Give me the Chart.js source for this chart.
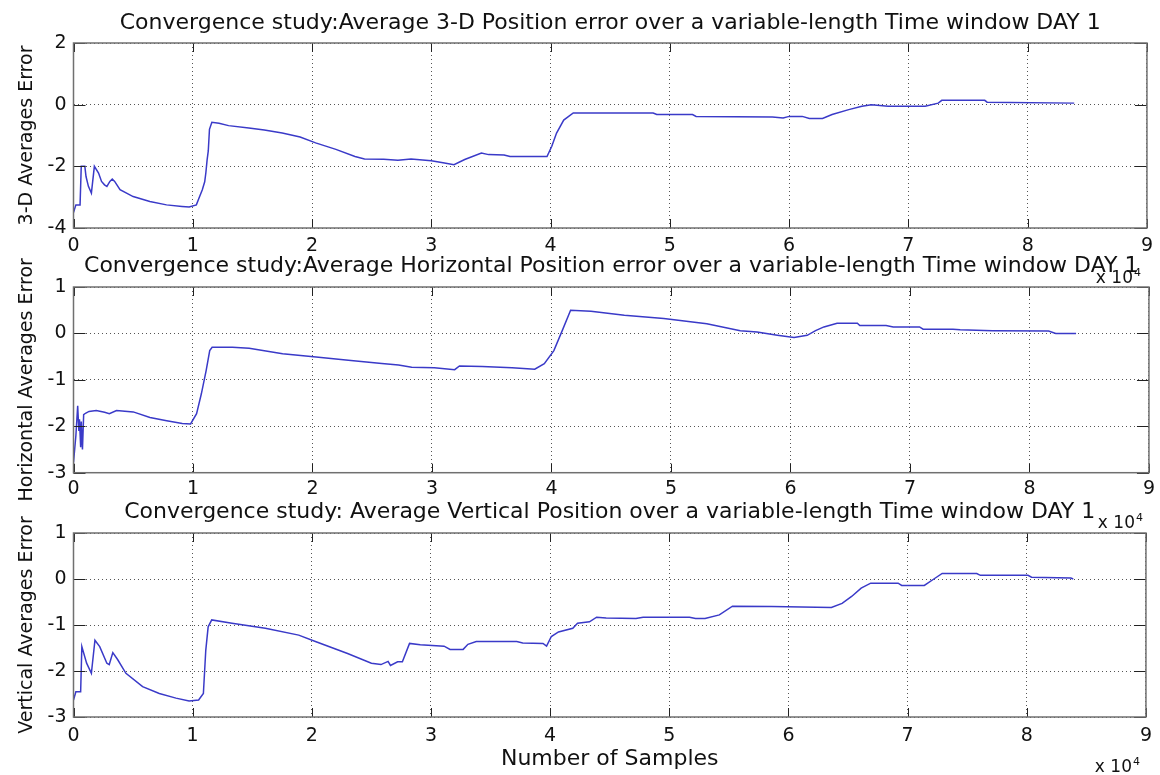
<!DOCTYPE html>
<html>
<head>
<meta charset="utf-8">
<title>Convergence study DAY 1</title>
<script src="https://cdn.jsdelivr.net/npm/chart.js@4/dist/chart.umd.min.js"></script>
<style>
  body { margin: 0; background: #fff; }
  #wrap { position: relative; width: 1160px; height: 775px; overflow: hidden; }
  canvas { position: absolute; left: 0; }
</style>
</head>
<body>
<div id="wrap">
  <canvas id="c3d" width="1160" height="290" style="top:0px"></canvas>
  <canvas id="cHor" width="1160" height="290" style="top:250px"></canvas>
  <canvas id="cVer" width="1160" height="280" style="top:495px"></canvas>
</div>
<script>
// sample axis in units of 10^4 samples
const xTicks = [0, 1, 2, 3, 4, 5, 6, 7, 8, 9];

// 3-D averages error
const x3d = [0, 0.02, 0.055, 0.065, 0.095, 0.105, 0.125, 0.15, 0.175, 0.21, 0.235, 0.26, 0.28, 0.305, 0.325, 0.345, 0.39,
  0.5, 0.64, 0.78, 0.91, 0.97, 1.03, 1.05, 1.08, 1.10, 1.11, 1.12, 1.13, 1.14, 1.16, 1.22, 1.30, 1.47, 1.60, 1.75, 1.90,
  2.03, 2.20, 2.36, 2.44, 2.60, 2.72, 2.83, 3.0, 3.11, 3.19, 3.28, 3.42, 3.48, 3.61, 3.66, 3.97, 4.01, 4.05, 4.11, 4.19,
  4.86, 4.89, 5.19, 5.22, 5.86, 5.95, 6.0, 6.11, 6.17, 6.28, 6.36, 6.5, 6.61, 6.69, 6.83, 7.14, 7.25, 7.28, 7.64, 7.66, 8.39];
const y3d = [-3.5, -3.25, -3.25, -2.0, -2.0, -2.33, -2.65, -2.87, -2.0, -2.22, -2.49, -2.6, -2.65, -2.49, -2.41, -2.49, -2.76,
  -2.98, -3.14, -3.25, -3.3, -3.32, -3.25, -3.05, -2.76, -2.5, -2.2, -1.8, -1.5, -0.8, -0.57, -0.6, -0.68, -0.76, -0.82, -0.92, -1.05,
  -1.24, -1.45, -1.68, -1.76, -1.77, -1.8, -1.76, -1.82, -1.89, -1.95, -1.78, -1.57, -1.62, -1.63, -1.68, -1.68, -1.35, -0.92, -0.5, -0.27,
  -0.27, -0.32, -0.32, -0.38, -0.4, -0.43, -0.38, -0.38, -0.45, -0.45, -0.32, -0.16, -0.05, 0.0, -0.05, -0.05, 0.05, 0.14, 0.14, 0.08, 0.05];

// horizontal averages error
const xHor = [0, 0.02, 0.035, 0.045, 0.05, 0.06, 0.065, 0.075, 0.085, 0.1, 0.13, 0.19, 0.26, 0.3, 0.36, 0.5, 0.64, 0.78, 0.91, 0.98,
  1.03, 1.07, 1.11, 1.14, 1.16, 1.33, 1.47, 1.75, 2.03, 2.3, 2.58, 2.72, 2.83, 3.02, 3.19, 3.23, 3.42, 3.67, 3.86, 3.94,
  4.02, 4.09, 4.16, 4.33, 4.61, 4.94, 5.3, 5.58, 5.72, 5.89, 6.03, 6.14, 6.21, 6.28, 6.39, 6.56, 6.58, 6.8, 6.86, 7.08,
  7.11, 7.36, 7.42, 7.69, 8.16, 8.22, 8.39];
const yHor = [-2.78, -2.2, -1.56, -2.1, -1.85, -2.45, -1.9, -2.5, -1.75, -1.72, -1.68, -1.66, -1.7, -1.73, -1.66, -1.69, -1.81, -1.88, -1.94, -1.95,
  -1.73, -1.3, -0.8, -0.37, -0.3, -0.3, -0.32, -0.44, -0.51, -0.58, -0.65, -0.68, -0.73, -0.74, -0.78, -0.7, -0.71, -0.74, -0.77, -0.65,
  -0.37, 0.06, 0.5, 0.48, 0.39, 0.32, 0.21, 0.06, 0.03, -0.04, -0.09, -0.04, 0.06, 0.14, 0.22, 0.22, 0.17, 0.17, 0.14, 0.14,
  0.09, 0.09, 0.08, 0.06, 0.05, 0.0, 0.0];

// vertical averages error
const xVer = [0, 0.02, 0.06, 0.07, 0.11, 0.15, 0.18, 0.22, 0.28, 0.3, 0.33, 0.37, 0.44, 0.58, 0.72, 0.86, 0.97, 1.05, 1.09, 1.11,
  1.13, 1.16, 1.33, 1.61, 1.89, 2.03, 2.3, 2.5, 2.58, 2.64, 2.66, 2.72, 2.76, 2.82, 2.91, 3.11, 3.16, 3.27, 3.31, 3.38,
  3.72, 3.77, 3.94, 3.97, 4.01, 4.07, 4.19, 4.23, 4.33, 4.39, 4.47, 4.72, 4.78, 5.17, 5.22, 5.3, 5.42, 5.53, 5.86, 6.36,
  6.45, 6.53, 6.61, 6.69, 6.92, 6.95, 7.14, 7.22, 7.29, 7.58, 7.61, 8.01, 8.04, 8.37, 8.39];
const yVer = [-2.63, -2.45, -2.45, -1.47, -1.83, -2.05, -1.33, -1.47, -1.83, -1.86, -1.6, -1.75, -2.05, -2.34, -2.49, -2.59, -2.65, -2.63, -2.49, -1.55,
  -1.04, -0.89, -0.96, -1.07, -1.22, -1.36, -1.62, -1.83, -1.86, -1.79, -1.88, -1.8, -1.8, -1.4, -1.43, -1.46, -1.53, -1.53, -1.42, -1.36,
  -1.36, -1.39, -1.4, -1.46, -1.25, -1.15, -1.07, -0.96, -0.93, -0.83, -0.85, -0.86, -0.83, -0.83, -0.86, -0.86, -0.78, -0.59, -0.6, -0.62,
  -0.53, -0.38, -0.2, -0.09, -0.09, -0.14, -0.14, 0.0, 0.12, 0.12, 0.08, 0.08, 0.04, 0.02, 0.0];

const yTicks3d = [-4, -2, 0, 2];
const yTicksErr = [-3, -2, -1, 0, 1];

Chart.defaults.font.family = '"DejaVu Sans", Arial, sans-serif';
Chart.defaults.color = '#111';

// MATLAB style box, inward ticks and the x 10^4 multiplier
const matlabAxes = {
  id: 'matlabAxes',
  afterDatasetsDraw(chart) {
    const { ctx, chartArea: a, scales: { x, y } } = chart;
    ctx.save();
    ctx.strokeStyle = '#222';
    ctx.lineWidth = 1;
    ctx.beginPath();
    x.ticks.forEach(t => {
      const px = Math.round(x.getPixelForValue(t.value)) + 0.5;
      ctx.moveTo(px, a.top); ctx.lineTo(px, a.top + 9);
      ctx.moveTo(px, a.bottom); ctx.lineTo(px, a.bottom - 9);
    });
    y.ticks.forEach(t => {
      const py = Math.round(y.getPixelForValue(t.value)) + 0.5;
      ctx.moveTo(a.left, py); ctx.lineTo(a.left + 12, py);
      ctx.moveTo(a.right, py); ctx.lineTo(a.right - 12, py);
    });
    ctx.stroke();
    ctx.strokeStyle = '#707070';
    ctx.lineWidth = 1.5;
    ctx.strokeRect(a.left, a.top, a.right - a.left, a.bottom - a.top);

    ctx.fillStyle = '#111';
    ctx.font = '17px "DejaVu Sans"';
    ctx.textAlign = 'right';
    ctx.textBaseline = 'alphabetic';
    ctx.fillText('x 10', a.right - 14, a.bottom + 55);
    ctx.font = '11px "DejaVu Sans"';
    ctx.textAlign = 'left';
    ctx.fillText('4', a.right - 13, a.bottom + 48);
    ctx.restore();
  }
};

function makePanel(id, cfg) {
  const points = cfg.xs.map((v, i) => ({ x: v, y: cfg.ys[i] }));
  return new Chart(document.getElementById(id), {
    type: 'line',
    data: {
      datasets: [{
        data: points,
        borderColor: 'rgb(58,58,200)',
        borderWidth: 1.5,
        pointRadius: 0,
        tension: 0,
        fill: false
      }]
    },
    options: {
      responsive: false,
      animation: false,
      layout: { padding: { left: 0, right: 7, top: 0, bottom: 0 } },
      plugins: {
        legend: { display: false },
        tooltip: { enabled: false },
        title: {
          display: true,
          text: cfg.title,
          fullSize: false,
          color: '#111',
          font: { size: 22, weight: 'normal' },
          padding: cfg.titlePad
        }
      },
      scales: {
        x: {
          type: 'linear',
          min: 0,
          max: 9,
          afterBuildTicks: s => { s.ticks = xTicks.map(v => ({ value: v })); },
          afterFit: s => { s.height = cfg.xAxisHeight; },
          ticks: { font: { size: 19 }, padding: cfg.xTickPad, color: '#111' },
          grid: { color: '#555', lineWidth: 1, drawTicks: false },
          border: { display: false, dash: [1, 3] },
          title: {
            display: !!cfg.xLabel,
            text: cfg.xLabel || '',
            font: { size: 22 },
            color: '#111',
            padding: { top: 0, bottom: 3 }
          }
        },
        y: {
          min: cfg.yMin,
          max: cfg.yMax,
          afterBuildTicks: s => { s.ticks = cfg.yTicks.map(v => ({ value: v })); },
          afterFit: s => { s.width = 73.5; },
          ticks: { font: { size: 19 }, padding: 7, color: '#111' },
          grid: { color: '#555', lineWidth: 1, drawTicks: false },
          border: { display: false, dash: [1, 3] },
          title: {
            display: true,
            text: cfg.yLabel,
            font: { size: 19 },
            color: '#111',
            padding: { top: 16, bottom: 0 }
          }
        }
      }
    },
    plugins: [matlabAxes]
  });
}

makePanel('c3d', {
  title: 'Convergence study:Average 3-D Position error over a variable-length Time window DAY 1',
  yLabel: '3-D Averages Error',
  xs: x3d, ys: y3d,
  yMin: -4, yMax: 2, yTicks: yTicks3d,
  titlePad: { top: 10, bottom: 6.6 },
  xAxisHeight: 62, xTickPad: 7
});

makePanel('cHor', {
  title: 'Convergence study:Average Horizontal Position error over a variable-length Time window DAY 1',
  yLabel: 'Horizontal Averages Error',
  xs: xHor, ys: yHor,
  yMin: -3, yMax: 1, yTicks: yTicksErr,
  titlePad: { top: 3.5, bottom: 7.1 },
  xAxisHeight: 67.3, xTickPad: 5
});

makePanel('cVer', {
  title: 'Convergence study: Average Vertical Position over a variable-length Time window DAY 1',
  yLabel: 'Vertical Averages Error',
  xLabel: 'Number of Samples',
  xs: xVer, ys: yVer,
  yMin: -3, yMax: 1, yTicks: yTicksErr,
  titlePad: { top: 3.7, bottom: 7.9 },
  xAxisHeight: 58, xTickPad: 8
});
</script>
</body>
</html>
